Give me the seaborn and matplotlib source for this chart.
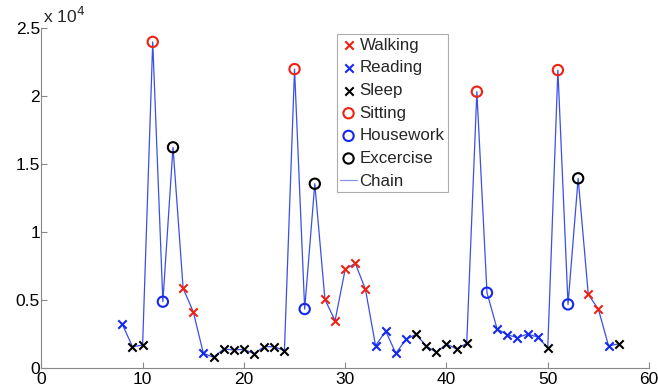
import matplotlib
matplotlib.use("Agg")
import matplotlib.pyplot as plt
from matplotlib.ticker import FuncFormatter, MultipleLocator
import seaborn as sns
import pandas as pd

# ---- data ----
steps = list(range(8, 58))
values = [3230, 1590, 1710, 24000, 4900, 16250, 5880, 4160, 1100, 810,
          1420, 1350, 1400, 1070, 1590, 1590, 1290, 22000, 4360, 13570,
          5070, 3500, 7280, 7720, 5810, 1660, 2740, 1100, 2130, 2500,
          1640, 1180, 1790, 1420, 1840, 20340, 5560, 2890, 2470, 2250,
          2520, 2300, 1520, 21930, 4700, 13970, 5440, 4340, 1660, 1790]
activities = ["Reading", "Sleep", "Sleep", "Sitting", "Housework", "Excercise",
              "Walking", "Walking", "Reading", "Sleep",
              "Sleep", "Sleep", "Sleep", "Sleep", "Sleep", "Sleep", "Sleep",
              "Sitting", "Housework", "Excercise",
              "Walking", "Walking", "Walking", "Walking", "Walking",
              "Reading", "Reading", "Reading", "Reading", "Sleep",
              "Sleep", "Sleep", "Sleep", "Sleep", "Sleep",
              "Sitting", "Housework", "Reading", "Reading", "Reading",
              "Reading", "Reading", "Sleep", "Sitting", "Housework", "Excercise",
              "Walking", "Walking", "Reading", "Sleep"]
legend_order = ["Walking", "Reading", "Sleep", "Sitting", "Housework", "Excercise"]

df = pd.DataFrame({"step": steps, "value": values, "activity": activities})

RED = "#ee2211"
BLUE = "#1428ee"
BLACK = "#000000"
styles = {
    "Walking": ("x", RED),
    "Reading": ("x", BLUE),
    "Sleep": ("x", BLACK),
    "Sitting": ("o", RED),
    "Housework": ("o", BLUE),
    "Excercise": ("o", BLACK),
}

sns.set_style("white")
plt.rcParams["font.family"] = ["Liberation Sans", "DejaVu Sans"]
plt.rcParams["font.size"] = 12

fig = plt.figure(figsize=(6.58, 3.9), dpi=100)
ax = fig.add_axes([0.0628, 0.0556, 0.9236, 0.8718])

sns.lineplot(data=df, x="step", y="value", ax=ax, color="#3a50e6",
             linewidth=0.9, label="Chain", zorder=1)

for act in legend_order:
    m, c = styles[act]
    sub = df[df["activity"] == act]
    if m == "x":
        sns.scatterplot(data=sub, x="step", y="value", ax=ax, marker="x",
                        color=c, s=36, linewidth=1.5, label=act, zorder=3)
    else:
        sns.scatterplot(data=sub, x="step", y="value", ax=ax, marker="o",
                        facecolors="none", edgecolors=c, s=55, linewidth=1.5,
                        label=act, zorder=3)

h, l = ax.get_legend_handles_labels()
hm = dict(zip(l, h))
order = legend_order + ["Chain"]
leg = ax.legend([hm[k] for k in order], order, loc="upper left",
                bbox_to_anchor=(0.486, 0.982), borderaxespad=0,
                fancybox=False, frameon=True, fontsize=12.2,
                labelspacing=0.45, handlelength=1.0, handletextpad=0.15,
                borderpad=0.2)
leg.get_frame().set_edgecolor("#999999")
leg.get_frame().set_linewidth(0.8)
for ln in leg.get_lines():
    ln.set_color("#8894ee")

ax.set_xlim(0, 60)
ax.set_ylim(0, 25000)
ax.xaxis.set_major_locator(MultipleLocator(10))
ax.yaxis.set_major_locator(MultipleLocator(5000))
ax.yaxis.set_major_formatter(FuncFormatter(lambda v, p: f"{v/1e4:g}"))
ax.set_xlabel("")
ax.set_ylabel("")

for s in ["top", "right"]:
    ax.spines[s].set_visible(False)
for s in ["left", "bottom"]:
    ax.spines[s].set_color("#888888")
    ax.spines[s].set_linewidth(0.8)
ax.tick_params(axis="both", direction="in", length=4, width=0.8,
               color="#888888", labelsize=12.5, labelcolor="black")
ax.tick_params(axis="x", pad=3, bottom=True)
ax.tick_params(axis="y", pad=1, left=True)

ax.annotate("x 10$^{4}$", xy=(0, 1), xycoords="axes fraction",
            xytext=(1, 2), textcoords="offset points", ha="left", va="bottom",
            fontsize=12.5)

fig.savefig("out.png", dpi=100)
